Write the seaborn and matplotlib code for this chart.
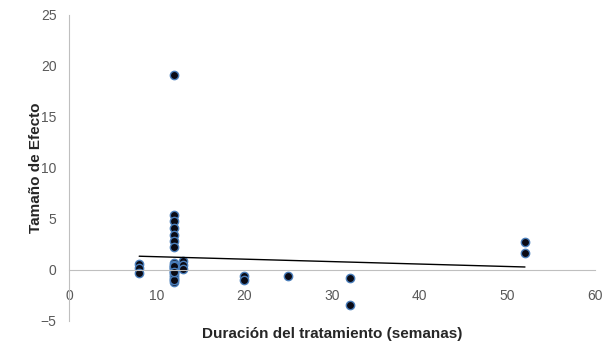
import numpy as np
import pandas as pd
import matplotlib
matplotlib.use("Agg")
import matplotlib.pyplot as plt
import seaborn as sns

# Points: treatment length (weeks) vs effect size
# (the x=12 cluster holds several overlapping points near zero)
weeks = [8, 8, 8,
         12, 12, 12, 12, 12, 12, 12, 12, 12, 12, 12, 12, 12, 12, 12,
         12, 12, 12, 12, 12, 12,
         13, 13, 13,
         20, 20, 25, 32, 32, 52, 52]
effect = [0.6, 0.2, -0.3,
          19.1, 5.4, 4.8, 4.1, 3.4, 2.8, 2.3, 0.7, 0.3, -0.1, -0.5, -0.9, -1.2, 0.5, 0.1,
          -0.3, -0.7, 0.2, -1.0, 0.4, -0.2,
          0.9, 0.5, 0.1,
          -0.6, -1.0, -0.6, -0.8, -3.4, 2.7, 1.7]

df = pd.DataFrame({"weeks": weeks, "effect": effect})

sns.set_style("white")
plt.rcParams["font.family"] = ["Liberation Sans", "DejaVu Sans"]

fig = plt.figure(figsize=(6.11, 3.47), dpi=100)
ax = fig.add_axes([0.113, 0.075, 0.861, 0.882])

sns.regplot(data=df, x="weeks", y="effect", ax=ax, ci=None, truncate=True,
            scatter_kws=dict(s=36, color="#0a0a14", edgecolors="#4a7ebb", linewidths=1.0, alpha=1),
            line_kws=dict(color="black", linewidth=1.0))

ax.set_xlim(0, 60)
ax.set_ylim(-5, 25)
ax.set_xticks(range(0, 61, 10))
ax.set_yticks(range(-5, 26, 5))

for s in ["top", "right"]:
    ax.spines[s].set_visible(False)
ax.spines["left"].set_color("#bfbfbf")
ax.spines["bottom"].set_color("#bfbfbf")
ax.spines["bottom"].set_position(("data", 0))
ax.tick_params(axis="both", length=0, labelsize=10, labelcolor="#595959")
ax.tick_params(axis="x", pad=14)
ax.tick_params(axis="y", pad=9)

ax.set_xlabel("Duración del tratamiento (semanas)", fontsize=11, fontweight="bold")
ax.set_ylabel("Tamaño de Efecto", fontsize=11, fontweight="bold")
ax.xaxis.set_label_coords(0.5, -0.02)
ax.yaxis.set_label_coords(-0.05, 0.5)

fig.savefig("out.png", dpi=100)
